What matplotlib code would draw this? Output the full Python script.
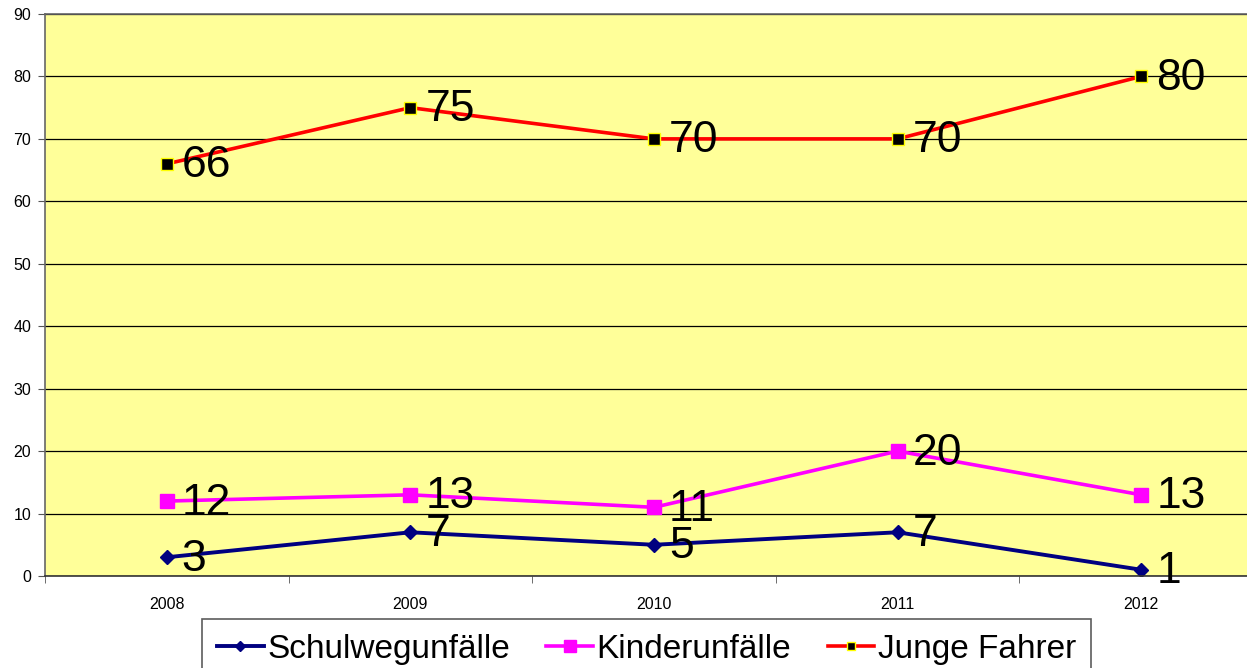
import numpy as np
import matplotlib.pyplot as plt

plt.rcParams['font.family'] = ['Liberation Sans', 'DejaVu Sans']

years = ['2008', '2009', '2010', '2011', '2012']
schulweg = [3, 7, 5, 7, 1]
kinder = [12, 13, 11, 20, 13]
junge = [66, 75, 70, 70, 80]

fig = plt.figure(figsize=(12.47, 6.68), dpi=100)
ax = fig.add_axes([45 / 1247, 1 - 576 / 668, 1218 / 1247, 562 / 668])
ax.set_facecolor('#FFFF99')

x = np.arange(len(years))
l1, = ax.plot(x, schulweg, color='#000080', lw=2.8, marker='D', ms=7,
              mfc='#000080', mec='#000080', label='Schulwegunfälle')
l2, = ax.plot(x, kinder, color='#FF00FF', lw=2.6, marker='s', ms=10,
              mfc='#FF00FF', mec='#FF00FF', label='Kinderunfälle')
l3, = ax.plot(x, junge, color='#FF0000', lw=2.6, marker='s', ms=8,
              mfc='black', mec='#FFFF00', mew=1, label='Junge Fahrer')

# data labels
for series in (schulweg, kinder, junge):
    for xi, v in zip(x, series):
        ax.annotate(str(v), (xi, v), xytext=(15, -2), textcoords='offset pixels',
                    ha='left', va='center', fontsize=32, color='black',
                    annotation_clip=False)

ax.set_xlim(-0.5, 4.5)
ax.set_ylim(0, 90)
ax.set_yticks(np.arange(0, 91, 10))
ax.yaxis.grid(True, color='black', lw=0.9)
ax.set_axisbelow(True)

ax.set_xticks(x)
ax.set_xticklabels(years)
ax.set_xticks(np.arange(-0.5, 4.6, 1), minor=True)
ax.tick_params(axis='x', which='major', length=0, pad=15, labelsize=11.5)
ax.tick_params(axis='x', which='minor', length=5, color='#555555', direction='out')
ax.tick_params(axis='y', length=5, color='#555555', labelsize=11.5, pad=5)

for s in ('top', 'left', 'bottom'):
    ax.spines[s].set_color('#666666')
    ax.spines[s].set_linewidth(1.2)
ax.spines['bottom'].set_color('#333333')
ax.spines['right'].set_visible(False)

leg = fig.legend(handles=[l1, l2, l3], loc='upper left',
                 bbox_to_anchor=(202 / 1247, 1 - 619 / 668), ncol=3,
                 fontsize=24, frameon=True, fancybox=False, borderaxespad=0,
                 edgecolor='#333333', handlelength=1.4, handletextpad=0.1,
                 columnspacing=1.1, borderpad=0.45, markerscale=0.8)
leg.get_frame().set_linewidth(1.2)

fig.savefig('out.png', dpi=100)
